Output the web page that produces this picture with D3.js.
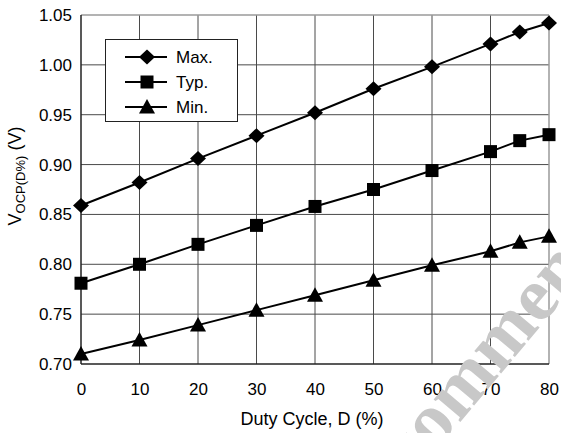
<!DOCTYPE html>
<html>
<head>
<meta charset="utf-8">
<script src="https://cdn.jsdelivr.net/npm/d3@7"></script>
<style>
  body { margin: 0; background: #fff; }
  text { font-family: "Liberation Sans", Arial, sans-serif; }
</style>
</head>
<body>
<script>
// duty cycle (%) and the three curves
var duty = [0, 10, 20, 30, 40, 50, 60, 70, 75, 80];
var vMax = [0.859, 0.882, 0.906, 0.929, 0.952, 0.976, 0.998, 1.021, 1.033, 1.042];
var vTyp = [0.781, 0.800, 0.820, 0.839, 0.858, 0.875, 0.894, 0.913, 0.924, 0.930];
var vMin = [0.710, 0.724, 0.739, 0.754, 0.769, 0.784, 0.799, 0.813, 0.822, 0.828];
var seriesNames = ["Max.", "Typ.", "Min."];
var xTicks = [0, 10, 20, 30, 40, 50, 60, 70, 80];
var yTicks = [0.70, 0.75, 0.80, 0.85, 0.90, 0.95, 1.00, 1.05];

var width = 561, height = 433;
var margin = { top: 15, right: 12, bottom: 69, left: 81 };

var svg = d3.select("body").append("svg")
    .attr("width", width)
    .attr("height", height);

var x = d3.scaleLinear().domain([0, 80]).range([margin.left, width - margin.right]);
var y = d3.scaleLinear().domain([0.70, 1.05]).range([height - margin.bottom, margin.top]);

// grid
svg.append("g").selectAll("line")
    .data(xTicks.slice(1, -1))
    .enter().append("line")
    .attr("x1", d => x(d)).attr("x2", d => x(d))
    .attr("y1", y(0.70)).attr("y2", y(1.05))
    .attr("stroke", "#4a4a4a").attr("stroke-width", 1);

svg.append("g").selectAll("line")
    .data(yTicks.slice(1, -1))
    .enter().append("line")
    .attr("x1", x(0)).attr("x2", x(80))
    .attr("y1", d => y(d)).attr("y2", d => y(d))
    .attr("stroke", "#4a4a4a").attr("stroke-width", 1);

// frame: top and right lighter, left and bottom dark
svg.append("line").attr("x1", x(0)).attr("x2", x(80)).attr("y1", y(1.05)).attr("y2", y(1.05))
    .attr("stroke", "#9a9a9a").attr("stroke-width", 1.5);
svg.append("line").attr("x1", x(80)).attr("x2", x(80)).attr("y1", y(1.05)).attr("y2", y(0.70))
    .attr("stroke", "#9a9a9a").attr("stroke-width", 1.5);
svg.append("line").attr("x1", x(0)).attr("x2", x(0)).attr("y1", y(1.05)).attr("y2", y(0.70))
    .attr("stroke", "#222").attr("stroke-width", 1.5);
svg.append("line").attr("x1", x(0)).attr("x2", x(80)).attr("y1", y(0.70)).attr("y2", y(0.70))
    .attr("stroke", "#222").attr("stroke-width", 1.5);

// axes (labels only)
var xAxis = d3.axisBottom(x).tickValues(xTicks).tickSize(0).tickPadding(0).tickFormat(d3.format("d"));
var gx = svg.append("g")
    .attr("transform", "translate(0," + (height - margin.bottom) + ")")
    .call(xAxis);
gx.select(".domain").remove();
gx.selectAll("text").attr("y", 31).attr("dy", null).style("font-size", "17px")
    .style("font-family", "Liberation Sans, Arial, sans-serif").style("fill", "#000");

var yAxis = d3.axisLeft(y).tickValues(yTicks).tickSize(0).tickPadding(9).tickFormat(d3.format(".2f"));
var gy = svg.append("g")
    .attr("transform", "translate(" + margin.left + ",0)")
    .call(yAxis);
gy.select(".domain").remove();
gy.selectAll("text").style("font-size", "17px")
    .style("font-family", "Liberation Sans, Arial, sans-serif").style("fill", "#000");

// markers
function markerPath(kind) {
  if (kind === 0) return "M0,-7.5L8,0L0,7.5L-8,0Z";
  if (kind === 1) return "M-6.5,-6.5H6.5V6.5H-6.5Z";
  return "M0,-8L8,6.5H-8Z";
}

var series = [vMax, vTyp, vMin];
var line = d3.line().x((d, i) => x(duty[i])).y(d => y(d));

series.forEach(function (vals, k) {
  svg.append("path")
      .attr("d", line(vals))
      .attr("fill", "none")
      .attr("stroke", "#000")
      .attr("stroke-width", 2);
  svg.append("g").selectAll("path")
      .data(vals)
      .enter().append("path")
      .attr("transform", (d, i) => "translate(" + x(duty[i]) + "," + y(d) + ")")
      .attr("d", markerPath(k))
      .attr("fill", "#000");
});

// legend
var legend = svg.append("g").attr("transform", "translate(105,39)");
legend.append("rect")
    .attr("x", 0.5).attr("y", 0.5)
    .attr("width", 132).attr("height", 82)
    .attr("fill", "#fff").attr("stroke", "#222").attr("stroke-width", 1);

seriesNames.forEach(function (name, k) {
  var ly = 18 + k * 25;
  legend.append("line")
      .attr("x1", 20).attr("x2", 62).attr("y1", ly).attr("y2", ly)
      .attr("stroke", "#000").attr("stroke-width", 2);
  legend.append("path")
      .attr("transform", "translate(42," + ly + ")")
      .attr("d", markerPath(k))
      .attr("fill", "#000");
  legend.append("text")
      .attr("x", 71).attr("y", ly + 6)
      .style("font-size", "17px")
      .style("fill", "#000")
      .text(name);
});

// axis titles
svg.append("text")
    .attr("x", x(40) - 3)
    .attr("y", 425)
    .attr("text-anchor", "middle")
    .style("font-size", "18px")
    .style("fill", "#000")
    .text("Duty Cycle, D (%)");

var yt = svg.append("text")
    .attr("transform", "translate(21,176) rotate(-90)")
    .attr("text-anchor", "middle")
    .style("font-size", "18px")
    .style("fill", "#000");
yt.append("tspan").text("V");
yt.append("tspan").attr("dy", 4).style("font-size", "13px").text("OCP(D%)");
yt.append("tspan").attr("dy", -4).text(" (V)");

// watermark
var F = 76;
var wm = svg.append("text")
    .attr("transform", "translate(466,388) rotate(-50)")
    .style("font-family", "Liberation Serif, serif")
    .style("font-weight", "bold")
    .style("font-size", F + "px")
    .style("fill", "#c8c8c8")
    .text("Recommended");
var node = wm.node();
var off = node.getSubStringLength(0, 4) + node.getSubStringLength(4, 1) / 2;
wm.attr("x", -off).attr("y", 0.23 * F);
</script>
</body>
</html>
